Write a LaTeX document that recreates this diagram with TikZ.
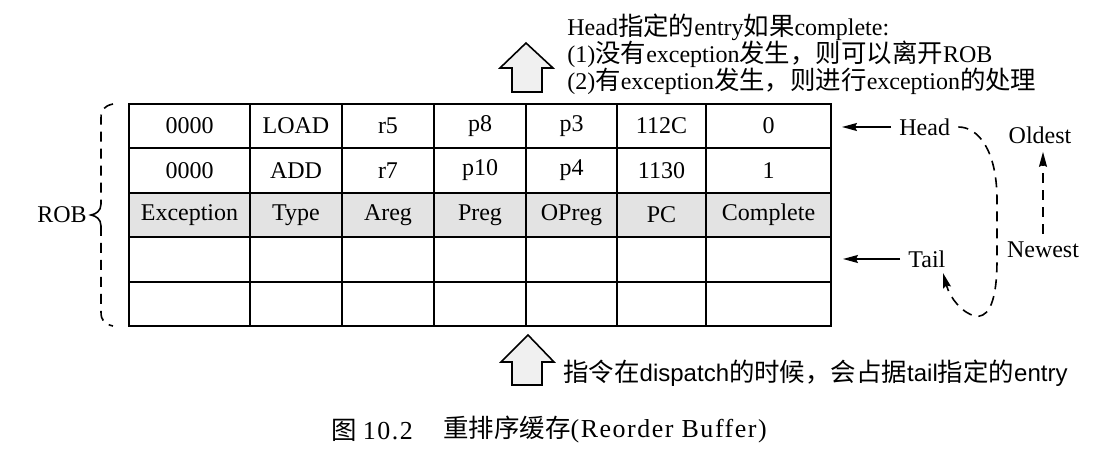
\documentclass[tikz,border=0pt]{standalone}
\usepackage{fontspec}
\setmainfont{Liberation Serif}
\newfontfamily\cjk[Scale=1.06]{Noto Sans CJK SC}
\newfontfamily\latsans{Liberation Sans}
\newfontfamily\capfont[LetterSpace=6,Scale=1.08]{Liberation Serif}
\usetikzlibrary{arrows.meta}
\begin{document}
\begin{tikzpicture}[x=0.5pt,y=-0.5pt,
  every node/.style={font=\fontsize{12}{13.5}\selectfont, inner sep=4pt},
  cell/.style={draw, line width=0.9pt, minimum height=22.2pt, inner sep=0pt},
  hdr/.style={cell, fill=gray!22},
  arr/.style={line width=0.8pt, -{Stealth[length=7.5pt,width=4pt,inset=1pt]}},
  dsh/.style={line width=0.8pt, dash pattern=on 5pt off 3.5pt},
  blockarrow/.style={draw, line width=0.8pt, fill=gray!12, line join=miter}]
\useasboundingbox (0,0) rectangle (1105,458);

% table
\foreach \xa/\xb/\txt [count=\i] in {129/250/0000,250/342/LOAD,342/434/r5,434/526/p8,526/617/p3,617/706/112C,706/831/0}
  \node[cell, minimum width={(\xb-\xa)*0.5pt}] (ra\i) at ({(\xa+\xb)/2},126) {\txt};
\foreach \xa/\xb/\txt [count=\i] in {129/250/0000,250/342/ADD,342/434/r7,434/526/p10,526/617/p4,617/706/1130,706/831/1}
  \node[cell, minimum width={(\xb-\xa)*0.5pt}] (rb\i) at ({(\xa+\xb)/2},170.5) {\txt};
\foreach \xa/\xb/\txt [count=\i] in {129/250/Exception,250/342/Type,342/434/Areg,434/526/Preg,526/617/OPreg,617/706/PC,706/831/Complete}
  \node[hdr, minimum width={(\xb-\xa)*0.5pt}] (rc\i) at ({(\xa+\xb)/2},215) {\txt};
\foreach \xa/\xb [count=\i] in {129/250,250/342,342/434,434/526,526/617,617/706,706/831}{
  \node[cell, minimum width={(\xb-\xa)*0.5pt}] (rd\i) at ({(\xa+\xb)/2},259.5) {};
  \node[cell, minimum width={(\xb-\xa)*0.5pt}] (re\i) at ({(\xa+\xb)/2},304) {};
}

% ROB brace
\node (rob) at (62,215) {ROB};
\draw[dsh] (113,104) .. controls (104,106) and (101,110) .. (101,118) -- (101,204);
\draw[line width=0.8pt] (101,204) .. controls (101,211) and (96,214) .. (91,215) .. controls (96,216) and (101,219) .. (101,226);
\draw[dsh] (101,226) -- (101,312) .. controls (101,320) and (104,324) .. (113,326);

% head / tail
\node[anchor=west] (head) at (891,127) {Head};
\node[anchor=west] (tail) at (900,259) {Tail};
\coordinate (headtip) at (842,127);
\coordinate (tailtip) at (843,259);
\coordinate (looptip) at (943,273);
\draw[arr] (head.west) -- (headtip);
\draw[arr] (tail.west) -- (tailtip);
\draw[dsh, arr] (head.east) .. controls (978,127) and (997,150) .. (997,200) -- (997,260)
  .. controls (997,310) and (985,318) .. (975,316) .. controls (962,313) and (950,298) .. (looptip);

% oldest / newest
\node (oldest) at (1040,135) {Oldest};
\node (newest) at (1043,250) {Newest};
\draw[dsh, arr] (newest.north) -- (newest.north |- oldest.south);

% block arrows
\draw[blockarrow] (526,43) -- (553,68) -- (542,68) -- (542,92) -- (512,92) -- (512,68) -- (500,68) -- cycle;
\draw[blockarrow] (528,335) -- (554,362) -- (542,362) -- (542,385) -- (512,385) -- (512,362) -- (501,362) -- cycle;

% texts
\node[anchor=west, align=left] (toptext) at (559,54) {Head{\cjk 指定的}entry{\cjk 如果}complete:\\
(1){\cjk 没有}exception{\cjk 发生，则可以离开}ROB\\
(2){\cjk 有}exception{\cjk 发生，则进行}exception{\cjk 的处理}};
\node[anchor=west] (bottext) at (555,373) {{\cjk 指令在}{\latsans dispatch}{\cjk 的时候，会占据}{\latsans tail}{\cjk 指定的}{\latsans entry}};

% caption
\node[anchor=west] (capnum) at (323,430) {{\cjk 图} {\capfont 10.2}};
\node[anchor=west] (captitle) at (435,430) {{\cjk 重排序缓存}{\capfont (Reorder Buffer)}};
\end{tikzpicture}
\end{document}
